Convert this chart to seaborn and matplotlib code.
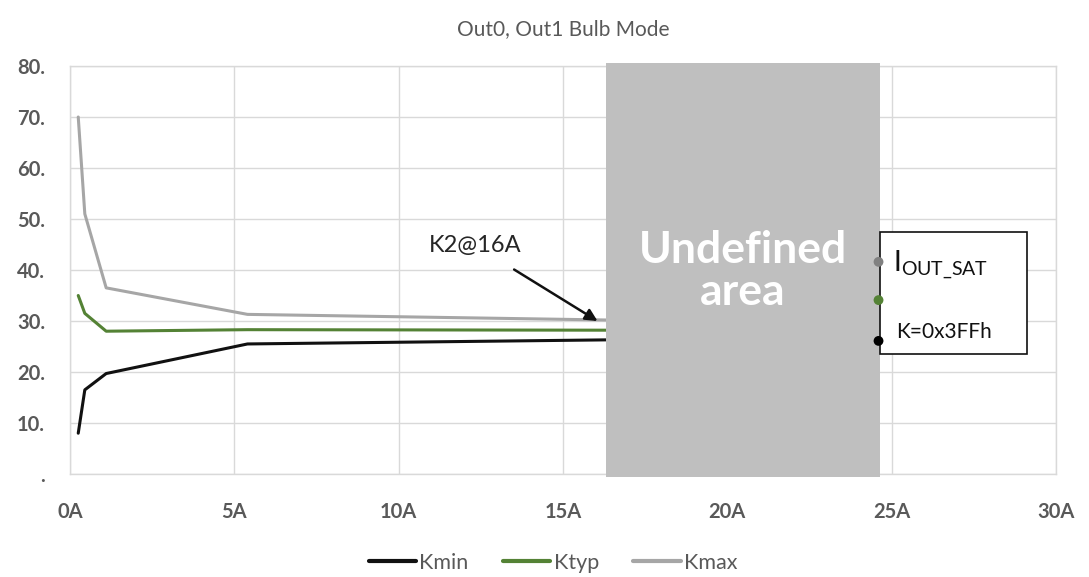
import matplotlib
matplotlib.use("Agg")
import matplotlib.pyplot as plt
from matplotlib.patches import Rectangle
import matplotlib.transforms as mtransforms
import seaborn as sns
import pandas as pd

# ---- data ----
current_a = [0.25, 0.45, 1.1, 5.4, 16.3]
kmin = [8.0, 16.5, 19.7, 25.5, 26.3]
ktyp = [35.0, 31.5, 28.0, 28.3, 28.2]
kmax = [70.0, 51.0, 36.5, 31.3, 30.2]
series_names = ["Kmin", "Ktyp", "Kmax"]
x_ticks = [0, 5, 10, 15, 20, 25, 30]
x_tick_labels = ["0A", "5A", "10A", "15A", "20A", "25A", "30A"]
y_ticks = [0, 10, 20, 30, 40, 50, 60, 70, 80]
y_tick_labels = [".", "10.", "20.", "30.", "40.", "50.", "60.", "70.", "80."]
undefined_range = [16.3, 24.65]
sat_points_y = [41.6, 34.1, 26.1]
sat_points_x = 24.6

sns.set_theme(style="white")
plt.rcParams["font.family"] = ["Lato", "DejaVu Sans"]

df = pd.DataFrame({
    "I": current_a * 3,
    "K": kmin + ktyp + kmax,
    "series": sum([[n] * len(current_a) for n in series_names], []),
})
palette = {"Kmin": "#111111", "Ktyp": "#548235", "Kmax": "#a6a6a6"}

fig = plt.figure(figsize=(10.89, 5.77), dpi=100)
ax = fig.add_axes([0.0643, 0.1785, 0.9054, 0.7071])

sns.lineplot(data=df, x="I", y="K", hue="series", palette=palette,
             linewidth=2.2, ax=ax, legend=True)

ax.set_xlim(0, 30)
ax.set_ylim(0, 80)
ax.set_xticks(x_ticks)
ax.set_xticklabels(x_tick_labels)
ax.set_yticks(y_ticks)
ax.set_yticklabels(y_tick_labels)
ax.tick_params(axis="both", length=0, labelsize=14.5, labelcolor="#595959")
ax.tick_params(axis="x", pad=20)
ax.tick_params(axis="y", pad=18)
for lbl in ax.get_xticklabels() + ax.get_yticklabels():
    lbl.set_fontweight("bold")
ax.grid(True, color="#d9d9d9", linewidth=1)
for s in ax.spines.values():
    s.set_color("#d9d9d9")
    s.set_linewidth(1)
ax.set_xlabel("")
ax.set_ylabel("")
ax.set_title("Out0, Out1 Bulb Mode", fontsize=15, color="#595959", pad=22)

# undefined area
trans = mtransforms.blended_transform_factory(ax.transData, ax.transAxes)
ax.add_patch(Rectangle((undefined_range[0], -0.007), undefined_range[1] - undefined_range[0], 1.014,
                       transform=trans, facecolor="#bfbfbf", edgecolor="none",
                       clip_on=False, zorder=3))
ax.text(sum(undefined_range) / 2, 39.8, "Undefined\narea", ha="center", va="center",
        color="white", fontsize=32, fontweight="bold", linespacing=1.05, zorder=4)

# saturation box
ax.add_patch(Rectangle((24.66, 23.5), 4.47, 23.9, facecolor="white", edgecolor="#111111",
                       linewidth=1.2, zorder=4, clip_on=False))
ax.scatter([sat_points_x] * 3, sat_points_y, c=["#808080", "#548235", "#000000"],
           s=50, zorder=5, edgecolors="none", clip_on=False)
ax.text(25.05, 41.0, r"$\mathregular{I_{OUT\_SAT}}$", fontsize=20, color="#111111",
        va="center", ha="left", zorder=6)
ax.text(25.15, 27.8, "K=0x3FFh", fontsize=15, color="#111111", va="center", ha="left", zorder=6)

# annotation
ax.annotate("K2@16A", xy=(16.05, 30.0), xytext=(12.33, 44.8), ha="center", va="center",
            fontsize=17, color="#262626",
            arrowprops=dict(arrowstyle="-|>", color="#111111", lw=1.8,
                            shrinkA=14, shrinkB=0, mutation_scale=18), zorder=6)

leg = ax.legend(loc="center", bbox_to_anchor=(0.49, -0.218), ncol=3, frameon=False,
                fontsize=15.5, handlelength=2.2, handletextpad=0.15, columnspacing=1.6)
for t in leg.get_texts():
    t.set_color("#595959")
for h in leg.get_lines():
    h.set_linewidth(3)

fig.savefig("out.png", dpi=100)
